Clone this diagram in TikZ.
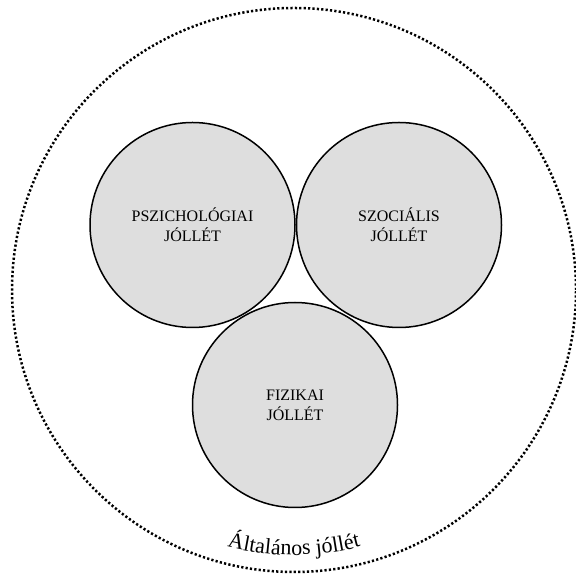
\documentclass[tikz,border=0pt]{standalone}
\usepackage{fontspec}
\setmainfont{Liberation Serif}
\usepackage{xcolor}
\usepackage{tikz}
\usetikzlibrary{decorations.text}
\definecolor{wellgray}{RGB}{222,222,222}
\tikzset{
  wellcircle/.style={circle, fill=wellgray, align=center, minimum size=205pt, inner sep=0pt, font=\fontsize{16}{20}\selectfont},
  wellrim/.style={circle, draw, line width=1.5pt, minimum size=205pt, inner sep=0pt},
  outerring/.style={circle, draw, line width=2.5pt, dash pattern=on 2.2pt off 2.2pt, minimum size=564pt, inner sep=0pt}
}

\begin{document}
\begin{tikzpicture}[x=1pt,y=1pt]
\useasboundingbox (0,0) rectangle (575,577);
\node[outerring] (overall) at (294,287) {};
\node[wellcircle] (psych) at (192.5,352) {PSZICHOLÓGIAI\\JÓLLÉT};
\node[wellcircle] (social) at (399,352) {SZOCIÁLIS\\JÓLLÉT};
\node[wellcircle] (physical) at (295,172) {FIZIKAI\\JÓLLÉT};
\foreach \c in {psych,social,physical} {
  \node[wellrim] at (\c) {};
}
\path[decorate, decoration={text along path, text align=center,
  text={|\fontsize{22}{22}\selectfont|Általános jóllét}}]
  (overall.center) ++(200:265) arc[start angle=200, end angle=340, radius=265];
\end{tikzpicture}
\end{document}
